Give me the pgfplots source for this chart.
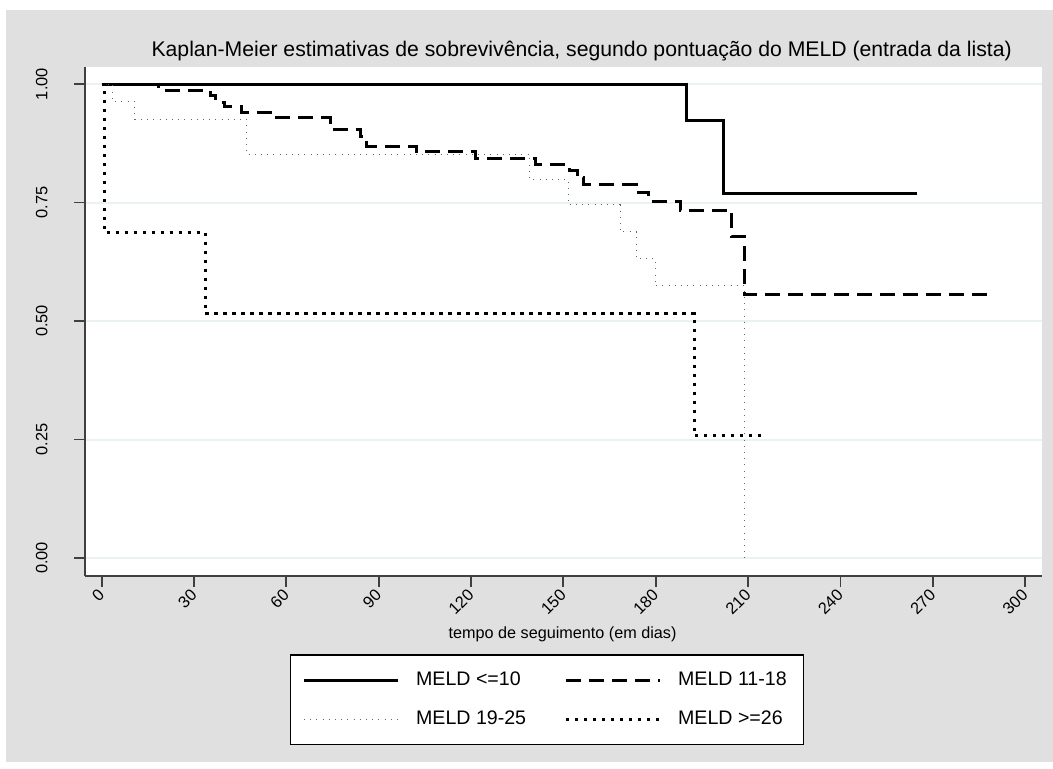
\documentclass[border=0pt]{standalone}
\usepackage{fontspec}
\setmainfont{Liberation Sans}
\usepackage{pgfplots}
\pgfplotsset{compat=1.18}
\definecolor{bggrey}{RGB}{224,224,224}
\definecolor{gridc}{RGB}{234,242,243}
\begin{document}
\begin{tikzpicture}
\path[use as bounding box] (0pt,0pt) rectangle (526.5pt,384.5pt);
\fill[bggrey] (3pt,3.5pt) rectangle (526.5pt,379.5pt);
\begin{axis}[
  at={(42.5pt,96.5pt)}, anchor=south west,
  scale only axis, width=478.5pt, height=254.5pt,
  xmin=-5.43, xmax=305.5, ymin=-0.038, ymax=1.036,
  axis x line*=bottom, axis y line*=left,
  axis line style={draw=black!75, line width=0.9pt, -},
  axis background/.style={fill=white},
  tick align=outside, major tick length=5.5pt,
  every tick/.style={black!75, line width=0.9pt},
  xtick={0,30,...,300}, ytick={0,0.25,0.5,0.75,1},
  yticklabels={0.00,0.25,0.50,0.75,1.00},
  ymajorgrids, grid style={gridc, line width=1pt},
  /pgf/number format/assume math mode=true,
  ticklabel style={font=\fontsize{8.2}{9.8}\selectfont},
  yticklabel style={rotate=90, anchor=south, inner sep=0pt},
  yticklabel shift=13pt,
  xticklabel style={rotate=45, anchor=east, inner sep=0pt},
  xticklabel shift=2.5pt,
  title={Kaplan-Meier estimativas de sobrevivência, segundo pontuação do MELD (entrada da lista)},
  every axis title shift=0pt,
  title style={font=\fontsize{10.6}{12.5}\selectfont, at={(axis description cs:0.519,1.031)}, anchor=center, yshift=0pt, inner sep=0pt},
  xlabel={tempo de seguimento (em dias)},
  xlabel style={font=\fontsize{8.1}{9.7}\selectfont, at={(axis description cs:0.499,-0.114)}, anchor=center, inner sep=0pt},
  legend columns=2, legend cell align=left,
  legend image code/.code={\draw[#1] (0pt,0pt) -- (47pt,0pt);},
  legend style={at={(axis description cs:0.4828,-0.243)}, anchor=center,
    draw=black, line width=0.75pt, fill=white,
    inner xsep=6pt, inner ysep=8.4pt, row sep=11.15pt,
    nodes={inner sep=0pt},
    font=\fontsize{9.8}{11.8}\selectfont,
    /tikz/every odd column/.append style={column sep=8.3pt}},
]
\addplot[const plot, black, line width=1.5pt] coordinates {
(0,1) (190,0.923) (202,0.769) (265,0.769)};
\addlegendentry{\makebox[74.2pt][l]{MELD <=10}}
\addplot[const plot, black, line width=1.5pt, dash pattern=on 7.5pt off 4pt] coordinates {
(0,1) (18.4,0.987) (35.2,0.975) (37.1,0.962) (40,0.952) (45.5,0.939) (55.6,0.929)
(74.2,0.905) (84,0.889) (86,0.869) (102.3,0.857) (121.3,0.843) (141,0.830)
(152,0.817) (154.5,0.802) (156.5,0.787) (173.8,0.771) (177.6,0.753) (187.9,0.734)
(204.7,0.679) (208.8,0.556) (288,0.556)};
\addlegendentry{\makebox[56.7pt][l]{MELD 11-18}}
\addplot[const plot, black!60, line width=0.5pt, dash pattern=on 0.5pt off 2.6pt] coordinates {
(0,1) (3.6,0.963) (10.8,0.926) (47,0.852) (139,0.799) (151.6,0.745) (168.4,0.688)
(173.8,0.631) (179.8,0.574) (208.8,0)};
\addlegendentry{\makebox[74.2pt][l]{MELD 19-25}}
\addplot[const plot, black, line width=1.5pt, dash pattern=on 1.7pt off 2.8pt] coordinates {
(0,1) (0.8,0.6875) (33.6,0.5156) (192.5,0.2578) (215.5,0.2578)};
\addlegendentry{\makebox[56.7pt][l]{MELD >=26}}
\end{axis}
\end{tikzpicture}
\end{document}
